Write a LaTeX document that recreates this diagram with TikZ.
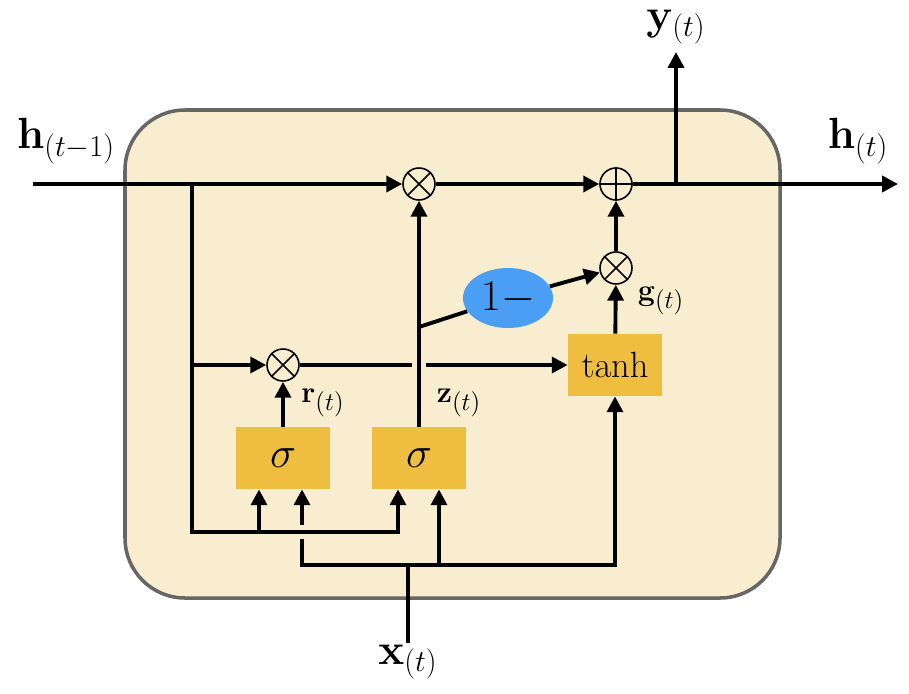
\documentclass[tikz,border=0pt]{standalone}
\usepackage{amsmath,amssymb}
\usepackage{xcolor}
\usepackage{tikz}
\usetikzlibrary{arrows.meta,shapes.geometric,calc}
\definecolor{cellbg}{RGB}{248,237,207}
\definecolor{cellborder}{RGB}{102,102,102}
\definecolor{gateyellow}{RGB}{239,189,64}
\definecolor{oneminus}{RGB}{74,159,245}

\begin{document}
\begin{tikzpicture}[
  x=0.02cm, y=-0.02cm,
  every node/.style={inner sep=0pt},
  cell/.style={draw=cellborder, line width=2pt, fill=cellbg,
               rounded corners=1.2cm},
  gate/.style={fill=gateyellow, minimum width=1.88cm, minimum height=1.24cm,
               font=\fontsize{28}{30}\selectfont},
  op/.style={circle, draw, line width=0.9pt, fill=cellbg, minimum size=0.64cm},
  wire/.style={line width=2.2pt},
  arrow/.style={wire, -{Triangle[length=9pt, width=9pt]}},
  over/.style={preaction={draw=cellbg, line width=8pt, -}},
  lbl/.style={font=\fontsize{23}{26}\selectfont},
  sublbl/.style={font=\fontsize{19}{22}\selectfont},
]
\useasboundingbox (0,0) rectangle (909,693);

%% ── Cell body ─────────────────────────────────────────────────────────────
\draw[cell] (125,110) rectangle (780,598);

%% ── Pointwise operations ──────────────────────────────────────────────────
\node[op] (mf) at (419,184) {};
\node[op] (pa) at (616,184) {};
\node[op] (mg) at (616,268) {};
\node[op] (mr) at (283,365) {};
\foreach \n in {mf,mg,mr} {
  \draw[line width=0.9pt] (\n.north west) -- (\n.south east)
                          (\n.north east) -- (\n.south west);
}
\draw[line width=0.9pt] (pa.north) -- (pa.south) (pa.west) -- (pa.east);

%% ── Gates ─────────────────────────────────────────────────────────────────
\node[gate] (sr) at (283,458) {$\sigma$};
\node[gate] (sz) at (419,458) {$\sigma$};
\node[gate, font=\fontsize{22}{24}\selectfont] (th) at (615,365) {$\tanh$};
\node[ellipse, fill=oneminus, minimum width=1.8cm, minimum height=1.2cm,
      font=\fontsize{24}{26}\selectfont] (om) at (508,298) {$1-$};

%% ── Junction points ───────────────────────────────────────────────────────
\coordinate (hin)    at (33,184);
\coordinate (hout)   at (898,184);
\coordinate (hsplit) at (192,184);
\coordinate (ysplit) at (676,184);
\coordinate (yout)   at (676,52);
\coordinate (hbot)   at (192,532);
\coordinate (xin)    at (408,643);
\coordinate (xbot)   at (408,565);
\coordinate (zsplit) at (419,327);
\coordinate (sr1) at ($(sr.south)+(-24,0)$);
\coordinate (sr2) at ($(sr.south)+(19,0)$);
\coordinate (sz1) at ($(sz.south)+(-21,0)$);
\coordinate (sz2) at ($(sz.south)+(20,0)$);

%% ── Input x(t) ────────────────────────────────────────────────────────────
\draw[wire] (xin) -- (xbot);
\draw[arrow] (xbot) -| (sr2);
\draw[arrow] (xbot) -| (sz2);
\draw[arrow] (xbot) -| (th.south);

%% ── Hidden state h(t-1) into the gates ────────────────────────────────────
\draw[arrow, over] (hsplit) -- (hbot) -| (sz1);
\draw[arrow] (sr1 |- hbot) -- (sr1);
\draw[arrow] (hsplit |- mr) -- (mr);

%% ── Reset and candidate ───────────────────────────────────────────────────
\draw[arrow] (sr) -- (mr);
\draw[arrow] (mr) -- (th);
\draw[arrow, over] (sz) -- (mf);
\draw[wire] (zsplit) -- (om);
\draw[arrow] (om) -- (mg);
\draw[arrow] (th) -- (mg);
\draw[arrow] (mg) -- (pa);

%% ── Main state line ───────────────────────────────────────────────────────
\draw[arrow] (hin) -- (mf);
\draw[arrow] (mf) -- (pa);
\draw[arrow] (pa) -- (hout);
\draw[arrow] (ysplit) -- (yout);

%% Labels
\node[lbl] (hinlbl)  at (66,141)  {$\mathbf{h}_{(t-1)}$};
\node[lbl] (houtlbl) at (858,141) {$\mathbf{h}_{(t)}$};
\node[lbl] (ylbl)    at (676,27)  {$\mathbf{y}_{(t)}$};
\node[lbl] (xlbl)    at (408,662) {$\mathbf{x}_{(t)}$};
\node[sublbl] (rlbl) at (323,403) {$\mathbf{r}_{(t)}$};
\node[sublbl] (zlbl) at (459,403) {$\mathbf{z}_{(t)}$};
\node[sublbl] (glbl) at (661,301) {$\mathbf{g}_{(t)}$};

\end{tikzpicture}
\end{document}
